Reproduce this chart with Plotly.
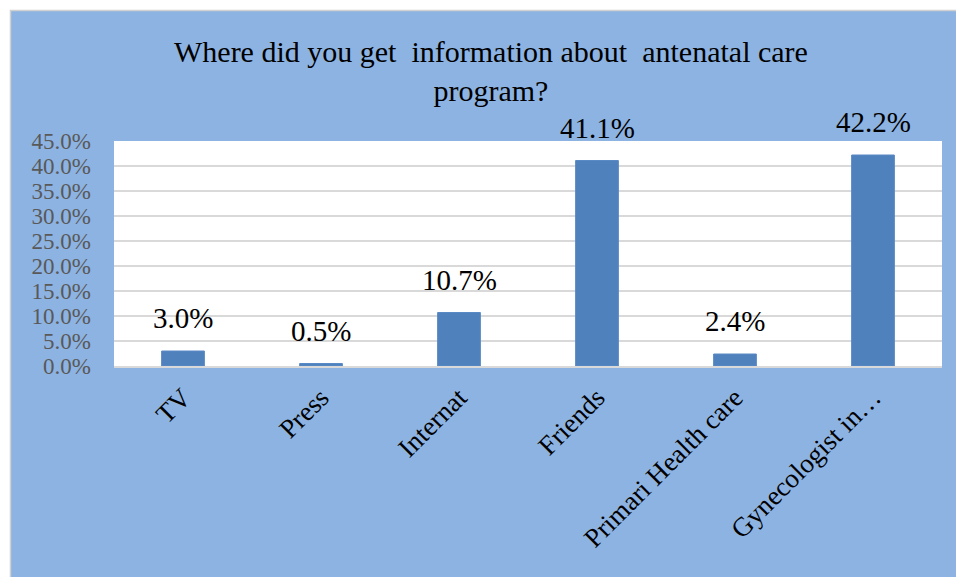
import plotly.graph_objects as go

# Survey answers: source of information about the antenatal care program
categories = ["TV", "Press", "Internat", "Friends", "Primari Health care", "Gynecologist in…"]
shares = [0.030, 0.005, 0.107, 0.411, 0.024, 0.422]
y_ticks = [0.0, 0.05, 0.10, 0.15, 0.20, 0.25, 0.30, 0.35, 0.40, 0.45]
title_lines = ["Where did you get  information about  antenatal care", "program?"]

SERIF = "Book Antiqua, Palatino Linotype, Liberation Serif, DejaVu Serif, serif"
CHART_BLUE = "#8DB3E2"
BAR_BLUE = "#4F81BD"
GRID = "#D9D9D9"

W, H = 956, 577
ML, MR, MT, MB = 114, 14, 141, 211
PW, PH = W - ML - MR, H - MT - MB


def px_to_paper_x(px):
    return (px - ML) / PW


def px_to_paper_y(py):
    return (H - MB - py) / PH


fig = go.Figure(
    go.Bar(
        x=categories,
        y=shares,
        marker=dict(color=BAR_BLUE, line=dict(color="#5A8AC6", width=1)),
        width=0.31,
        hoverinfo="x+y",
    )
)

# value labels above each bar
for cat, val in zip(categories, shares):
    fig.add_annotation(
        x=cat, y=val, text=f"{val * 100:.1f}%",
        showarrow=False, yanchor="bottom", yshift=15,
        font=dict(family=SERIF, size=29, color="#000000"),
    )

# chart title, two centred lines
fig.add_annotation(
    xref="paper", yref="paper",
    x=px_to_paper_x(491), y=px_to_paper_y(71),
    xanchor="center", yanchor="middle",
    text="<br>".join(title_lines), showarrow=False,
    font=dict(family=SERIF, size=30, color="#000000"),
)

# blue chart area with thin grey edge, and the white plotting surface on top of it
fig.add_shape(
    type="rect", xref="paper", yref="paper", layer="below",
    x0=px_to_paper_x(10.5), x1=px_to_paper_x(W + 5),
    y0=px_to_paper_y(H + 5), y1=px_to_paper_y(10.5),
    fillcolor=CHART_BLUE, line=dict(color="#D0D0D0", width=1.5),
)
fig.add_shape(
    type="rect", xref="paper", yref="paper", layer="below",
    x0=0, x1=1, y0=0, y1=1, fillcolor="#FFFFFF", line=dict(width=0),
)

fig.update_layout(
    width=W, height=H,
    margin=dict(l=ML, r=MR, t=MT, b=MB, pad=0),
    paper_bgcolor="#FFFFFF",
    plot_bgcolor="rgba(0,0,0,0)",
    showlegend=False,
    xaxis=dict(
        tickangle=-45,
        tickfont=dict(family=SERIF, size=27, color="#000000"),
        showline=True, linecolor=GRID, linewidth=2,
        ticks="", ticklabelstandoff=3,
        showgrid=False,
    ),
    yaxis=dict(
        range=[0, 0.45],
        tickvals=y_ticks,
        tickformat=".1%",
        tickfont=dict(family=SERIF, size=23, color="#595959"),
        showgrid=True, gridcolor=GRID, gridwidth=1.5,
        zeroline=False, showline=False,
        ticks="", ticklabelstandoff=22,
    ),
)

fig.write_html("out.html")
